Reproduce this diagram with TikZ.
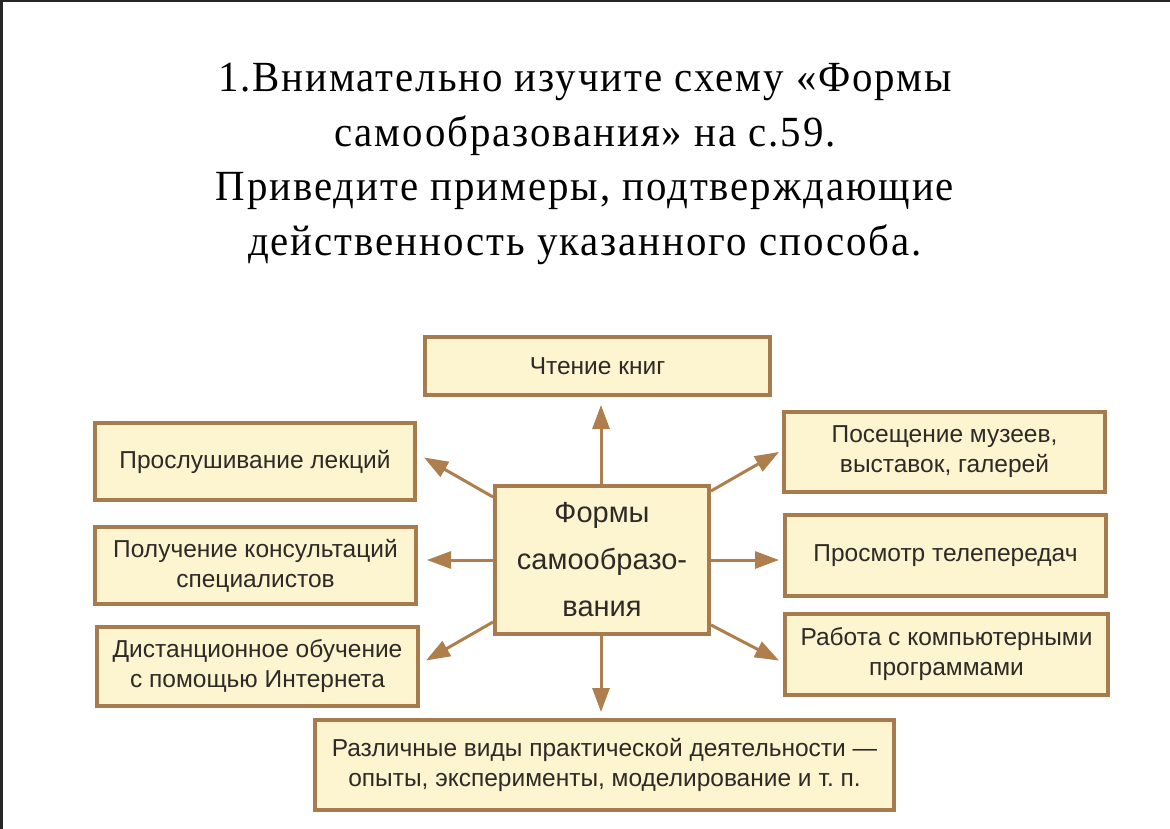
\documentclass[tikz,border=0pt]{standalone}
\usepackage{fontspec}
\setmainfont{Liberation Sans}
\newfontfamily\titlefont[FakeStretch=0.95,LetterSpace=4.5]{Liberation Serif}
\usetikzlibrary{arrows.meta,calc}
\definecolor{boxfill}{HTML}{FDF4D0}
\definecolor{boxline}{HTML}{A67B4E}
\definecolor{arrowc}{HTML}{AE7E4C}
\definecolor{txt}{HTML}{2E2A26}
\tikzset{
  box/.style={draw=boxline,line width=4pt,fill=boxfill,text=txt,align=center,inner sep=0pt,
    font=\fontsize{24.5}{30}\selectfont},
  conn/.style={draw=arrowc,line width=3pt,-{Triangle[length=24pt,width=17pt]}}
}
\begin{document}
\begin{tikzpicture}[x=1pt,y=-1pt]
\useasboundingbox (0,0) rectangle (1170,829);
\fill[white] (0,0) rectangle (1170,829);
\fill[black!85] (0,0) rectangle (1170,2.5);
\fill[black!85] (0,0) rectangle (2.5,829);
\node[align=center,text=black,font=\titlefont\fontsize{43}{54.5}\selectfont] (title) at (585,164)
  {1.Внимательно изучите схему «Формы\\самообразования» на с.59.\\Приведите примеры, подтверждающие\\действенность указанного способа.};
\node[box,minimum width=345pt,minimum height=58pt] (read) at (597.5,366) {Чтение книг};
\node[box,minimum width=320pt,minimum height=77pt] (lect) at (255,461.5) {Прослушивание лекций};
\node[box,minimum width=321pt,minimum height=77pt] (cons) at (255.5,565.5) {Получение консультаций\\специалистов};
\node[box,minimum width=321pt,minimum height=79pt] (dist) at (257.5,666.5) {Дистанционное обучение\\с помощью Интернета};
\node[box,minimum width=214pt,minimum height=148pt,font=\fontsize{29}{47}\selectfont] (c) at (602,560) {Формы\\самообразо-\\вания};
\node[box,minimum width=321pt,minimum height=80pt] (mus) at (944.5,452) {Посещение музеев,\\выставок, галерей};
\node[box,minimum width=321pt,minimum height=81pt] (tv) at (945.5,555.5) {Просмотр телепередач};
\node[box,minimum width=323pt,minimum height=81pt] (comp) at (946.5,654.5) {Работа с компьютерными\\программами};
\node[box,minimum width=579pt,minimum height=90pt] (prac) at (604.5,765) {Различные виды практической деятельности~---\\опыты, эксперименты, моделирование и т.\ п.};
\draw[conn] ([xshift=-1pt]c.north) -- ([yshift=-8pt,xshift=3.5pt]read.south);
\draw[conn] ([xshift=-1pt]c.south) -- ([yshift=6pt,xshift=-3.5pt]prac.north);
\draw[conn] ([yshift=-13pt]c.north west) -- ([xshift=7pt,yshift=4pt]lect.east);
\draw[conn] (c.west) -- ([xshift=9pt,yshift=5.5pt]cons.east);
\draw[conn] ([yshift=14pt]c.south west) -- ([xshift=6pt,yshift=6pt]dist.east);
\draw[conn] ([yshift=-7pt]c.north east) -- ([xshift=-3pt]mus.west);
\draw[conn] (c.east) -- ([xshift=-4pt,yshift=-4.5pt]tv.west);
\draw[conn] ([yshift=11pt]c.south east) -- ([xshift=-4pt,yshift=-6pt]comp.west);
\end{tikzpicture}
\end{document}
